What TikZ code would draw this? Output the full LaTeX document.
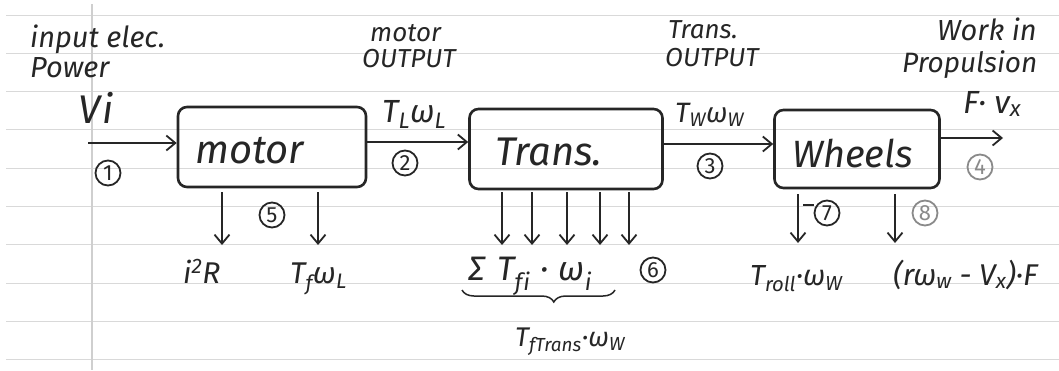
\documentclass[tikz,border=0pt]{standalone}
\usepackage{fontspec}
\setmainfont{Fira Sans}
\usetikzlibrary{arrows.meta,decorations.pathreplacing}
\definecolor{inkc}{HTML}{262626}
\definecolor{fadedink}{HTML}{8A8A8A}
\definecolor{ruleC}{HTML}{D9D9D9}
\definecolor{marginC}{HTML}{CFCFCF}
\begin{document}
\begin{tikzpicture}[x=1pt,y=-1pt,
  block/.style={draw=inkc, line width=2.6pt, rounded corners=9pt, inner sep=0pt},
  blocktext/.style={font=\fontsize{40}{42}\selectfont\itshape, text=inkc, inner sep=0pt, anchor=base west},
  flow/.style={draw=inkc, line width=1.8pt, -{Straight Barb[length=9pt,width=15pt,line width=1.8pt]}},
  note/.style={font=\fontsize{29}{32}\selectfont\itshape, text=inkc, inner sep=0pt, anchor=base west},
  smallnote/.style={note, font=\fontsize{26}{28}\selectfont\itshape},
  qty/.style={font=\fontsize{30}{32}\selectfont\itshape, text=inkc, inner sep=0pt, anchor=base west},
  tag/.style={draw=inkc, circle, line width=1.8pt, minimum size=25pt, inner sep=0pt, font=\fontsize{22}{22}\selectfont, text=inkc},
  fadedtag/.style={tag, draw=fadedink, text=fadedink},
  paperline/.style={draw=ruleC, line width=1pt},
  marginline/.style={draw=marginC, line width=1.2pt}
]
\useasboundingbox (0,0) rectangle (1059,370);
\fill[white] (0,0) rectangle (1059,370);

% ruled paper
\foreach \k in {0,...,9}
  \draw[paperline] (6,{15+38.3*\k}) -- (1059,{15+38.3*\k});
\draw[marginline] (92,4) -- (92,370);

% blocks
\node[block, minimum width=188pt, minimum height=80pt] (motor) at (272,147) {};
\node[block, minimum width=193pt, minimum height=80pt] (trans) at (566,149) {};
\node[block, minimum width=165pt, minimum height=78pt] (wheels) at (857,149) {};
\node[blocktext] (motorT) at (195,163) {motor};
\node[blocktext] (transT) at (495,165) {Trans.};
\node[blocktext, font=\fontsize{38}{40}\selectfont\itshape] (wheelsT) at (792,167) {Wheels};

% top annotations
\node[note] (in1) at (30,47) {input elec.};
\node[note] (in2) at (30,77) {Power};
\node[smallnote] (mo1) at (370,41) {motor};
\node[smallnote] (mo2) at (362,67) {OUTPUT};
\node[smallnote] (tr1) at (668,38) {Trans.};
\node[smallnote] (tr2) at (665,66) {OUTPUT};
\node[note] (wk1) at (937,40) {Work in};
\node[note, font=\fontsize{28}{30}\selectfont\itshape] (wk2) at (902,72) {Propulsion};

% power quantities on the through path
\node[qty, font=\fontsize{40}{42}\selectfont\itshape] (vi) at (78,123) {V\kern2pt i};
\node[qty, font=\fontsize{32}{34}\selectfont\itshape] (tl) at (382,122) {T\textsubscript{L}ω\textsubscript{L}};
\node[qty, font=\fontsize{28}{30}\selectfont\itshape] (tw) at (675,122) {T\textsubscript{W}ω\textsubscript{W}};
\node[qty, font=\fontsize{32}{34}\selectfont\itshape] (fv) at (963,113) {F· v\textsubscript{x}};

% through path
\coordinate (src) at (88,143);
\coordinate (a2) at (0,142);
\coordinate (a3) at (0,144);
\coordinate (a4) at (0,138);
\coordinate (snk) at (1003,138);
\draw[flow] (src) -- (src -| motor.west);
\draw[flow] (motor.east |- a2) -- (trans.west |- a2);
\draw[flow] (trans.east |- a3) -- (wheels.west |- a3);
\draw[flow] (wheels.east |- a4) -- (snk);

% losses
\coordinate (m1) at (222,245);
\coordinate (m2) at (318,245);
\draw[flow] (m1 |- motor.south) ++(0,4) -- (m1);
\draw[flow] (m2 |- motor.south) ++(0,4) -- (m2);
\foreach \x [count=\i] in {502,532,567,600,629} {
  \coordinate (t\i) at (\x,245);
  \draw[flow] (t\i |- trans.south) ++(0,2) -- (t\i);
}
\coordinate (w1) at (798,243);
\coordinate (w2) at (895,243);
\draw[flow] (w1 |- wheels.south) ++(0,5) -- (w1);
\draw[flow] (w2 |- wheels.south) ++(0,5) -- (w2);

\node[qty] (i2r) at (183,283) {i\textsuperscript{2}R};
\node[qty] (tfl) at (290,283) {T\textsubscript{f}ω\textsubscript{L}};
\node[qty, font=\fontsize{34}{36}\selectfont\itshape] (sum) at (468,280)
  {Σ\hspace{12pt}T\textsubscript{f\kern1pt i}\hspace{10pt}·\hspace{10pt}ω\textsubscript{i}};
\node[qty, font=\fontsize{29}{31}\selectfont\itshape] (roll) at (750,285) {T\textsubscript{roll}·ω\textsubscript{W}};
\node[qty] (slip) at (893,285) {(rω\textsubscript{w} - V\textsubscript{x})·F};

% grouped transmission friction
\coordinate (bl) at (462,290);
\coordinate (br) at (615,290);
\draw[draw=inkc, line width=1.5pt, decorate,
      decoration={brace, mirror, amplitude=12pt, aspect=0.6}] (bl) -- (br);
\node[qty, font=\fontsize{27}{30}\selectfont\itshape] (tft) at (515,346) {T\textsubscript{fTrans}·ω\textsubscript{W}};

% numbered stations
\node[tag] (s1) at (108,173) {1};
\node[tag] (s2) at (405,163) {2};
\node[tag] (s3) at (710,166) {3};
\node[fadedtag] (s4) at (980,167) {4};
\node[tag] (s5) at (272,215) {5};
\node[tag] (s6) at (653,270) {6};
\node[tag] (s7) at (827,213) {7};
\node[fadedtag] (s8) at (925,213) {8};
\draw[draw=inkc, line width=1.2pt] (w1 |- 0,205) ++(5,0) -- (s7.west |- 0,205);
\end{tikzpicture}
\end{document}
